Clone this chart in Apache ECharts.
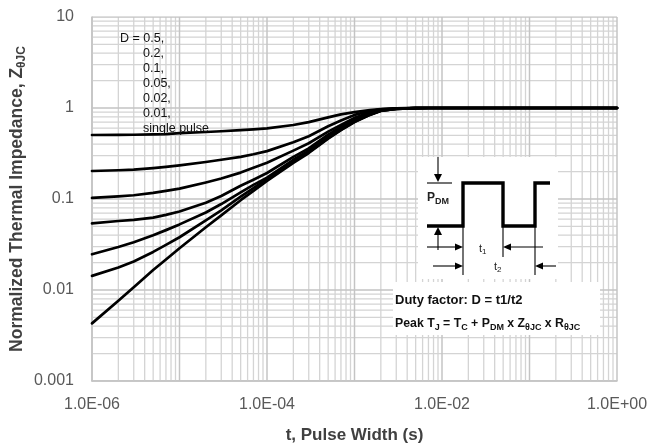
<!DOCTYPE html>
<html><head><meta charset="utf-8">
<script src="https://cdn.jsdelivr.net/npm/echarts@6/dist/echarts.min.js"></script>
<style>html,body{margin:0;padding:0;background:#fff}#c{width:648px;height:446px}</style>
</head><body><div id="c"></div>
<script>
// ---- data ----
const pulseWidths = [1e-6,2e-6,3e-6,5e-6,7e-6,1e-5,2e-5,3e-5,5e-5,7e-5,1e-4,2e-4,3e-4,5e-4,7e-4,1e-3,1.5e-3,2e-3,3e-3,5e-3,7e-3,1e-2,1e-1,1];
const zD050  = [0.505,0.506,0.508,0.512,0.517,0.53,0.545,0.555,0.57,0.582,0.597,0.65,0.70,0.79,0.85,0.90,0.95,0.975,0.99,1.0,1.0,1.0,1.0,1.0];
const zD020  = [0.203,0.207,0.21,0.218,0.225,0.234,0.255,0.27,0.29,0.31,0.336,0.42,0.49,0.63,0.73,0.84,0.925,0.965,0.99,1.0,1.0,1.0,1.0,1.0];
const zD010  = [0.103,0.107,0.11,0.117,0.123,0.13,0.152,0.168,0.195,0.22,0.25,0.34,0.41,0.55,0.65,0.78,0.89,0.955,0.988,0.998,1.0,1.0,1.0,1.0];
const zD005  = [0.054,0.0573,0.059,0.0625,0.067,0.073,0.091,0.108,0.14,0.163,0.193,0.29,0.36,0.51,0.62,0.75,0.87,0.945,0.985,0.997,1.0,1.0,1.0,1.0];
const zD002  = [0.0247,0.0297,0.0335,0.040,0.0455,0.0526,0.071,0.088,0.118,0.143,0.172,0.27,0.34,0.48,0.59,0.72,0.85,0.935,0.98,0.995,1.0,1.0,1.0,1.0];
const zD001  = [0.0143,0.0177,0.0206,0.0262,0.0313,0.038,0.0583,0.075,0.106,0.132,0.166,0.258,0.327,0.467,0.575,0.705,0.842,0.932,0.98,0.995,1.0,1.0,1.0,1.0];
const zSingle= [0.0043,0.0076,0.0107,0.0166,0.0216,0.0288,0.049,0.066,0.097,0.123,0.158,0.25,0.32,0.46,0.57,0.70,0.84,0.93,0.98,0.995,1.0,1.0,1.0,1.0];
const seriesNames = ['D = 0.5,','0.2,','0.1,','0.05,','0.02,','0.01,','single pulse'];
const seriesValues = [zD050,zD020,zD010,zD005,zD002,zD001,zSingle];
const xTickValues = [1e-6,1e-4,1e-2,1];
const xTickLabels = ['1.0E-06','1.0E-04','1.0E-02','1.0E+00'];
const yTickValues = [0.001,0.01,0.1,1,10];
const yTickLabels = ['0.001','0.01','0.1','1','10'];
const xDecades = [-6,-5,-4,-3,-2,-1,0];
const yDecades = [-3,-2,-1,0,1];
const minorMultipliers = [2,3,4,5,6,7,8,9];

const X_MIN = xTickValues[0], X_MAX = xTickValues[xTickValues.length-1];
const Y_MIN = yTickValues[0], Y_MAX = yTickValues[yTickValues.length-1];

function labelFor(v, vals, labs){
  const lv = Math.log10(v);
  for (let i=0;i<vals.length;i++){ if (Math.abs(lv-Math.log10(vals[i]))<1e-6) return labs[i]; }
  return '';
}

// grid lines as broken line series (drawn through the axes)
const majorGrid = [], minorGrid = [];
function vLine(arr, x){ arr.push([x,Y_MIN],[x,Y_MAX],[x,'-']); }
function hLine(arr, y){ arr.push([X_MIN,y],[X_MAX,y],['-',y]); }
xDecades.forEach(e=>{
  vLine(majorGrid, Math.pow(10,e));
  if (e<0) minorMultipliers.forEach(m=>vLine(minorGrid, m*Math.pow(10,e)));
});
yDecades.forEach(e=>{
  hLine(majorGrid, Math.pow(10,e));
  if (e<1) minorMultipliers.forEach(m=>hLine(minorGrid, m*Math.pow(10,e)));
});

const chart = echarts.init(document.getElementById('c'), null, {renderer:'canvas'});

const series = [
  {type:'line', data:minorGrid, symbol:'none', silent:true, z:1, connectNulls:false,
   lineStyle:{color:'#d4d4d4', width:1.3}, emphasis:{disabled:true}},
  {type:'line', data:majorGrid, symbol:'none', silent:true, z:1, connectNulls:false,
   lineStyle:{color:'#c4c4c4', width:1.5}, emphasis:{disabled:true}}
];
seriesValues.forEach((vals,i)=>{
  series.push({
    name: seriesNames[i], type:'line', z:3, symbol:'none', smooth:false,
    lineStyle:{color:'#000', width:2.7, join:'round', cap:'round'}, itemStyle:{color:'#000'},
    data: pulseWidths.map((t,j)=>[t, vals[j]])
  });
});

const FF = '"Liberation Sans", Arial, sans-serif';
const graphic = [];
// legend-like text
seriesNames.forEach((n,i)=>{
  graphic.push({type:'text', left: i===0?120:143, top: 32+i*15, z:10,
    style:{text:n, font:'12.5px '+FF, fill:'#111'}});
});
// inset white boxes
graphic.push({type:'rect', shape:{x:418,y:157,width:140,height:122}, style:{fill:'#fff'}, z:5});
graphic.push({type:'rect', shape:{x:393,y:282,width:207,height:53}, style:{fill:'#fff'}, z:5});
// waveform
graphic.push({type:'polyline', z:6, shape:{points:[[427,226],[463,226],[463,183],[503,183],[503,226],[535,226],[535,183],[550,183]]},
  style:{stroke:'#000', lineWidth:3.4, fill:null}});
const thin = {stroke:'#000', lineWidth:1.1};
[[427,183,452,183],[438,157,438,178],[438,250,438,231],[463,226,463,275],[503,226,503,257],[535,226,535,275],
 [427,247,458,247],[543,247,508,247],[433,266,458,266],[556,266,540,266]].forEach(l=>{
  graphic.push({type:'line', z:6, shape:{x1:l[0],y1:l[1],x2:l[2],y2:l[3]}, style:thin});
});
[[[434,174],[442,174],[438,182]], [[434,235],[442,235],[438,227]],
 [[455,243.5],[455,250.5],[463,247]], [[511,243.5],[511,250.5],[503,247]],
 [[455,262.5],[455,269.5],[463,266]], [[543,262.5],[543,269.5],[535,266]]].forEach(p=>{
  graphic.push({type:'polygon', z:6, shape:{points:p}, style:{fill:'#000'}});
});
const sub = {fontSize:9, fontWeight:'bold', padding:[8,0,0,0]};
graphic.push({type:'text', left:427, top:192, z:7, style:{text:'P{s|DM}', font:'bold 12px '+FF, fill:'#222', rich:{s:sub}}});
graphic.push({type:'text', left:479, top:243, z:7, style:{text:'t{s|1}', font:'11px '+FF, fill:'#222', rich:{s:{fontSize:8, padding:[6,0,0,0]}}}});
graphic.push({type:'text', left:494, top:261, z:7, style:{text:'t{s|2}', font:'11px '+FF, fill:'#222', rich:{s:{fontSize:8, padding:[6,0,0,0]}}}});
graphic.push({type:'text', left:395, top:294, z:7, style:{text:'Duty factor: D = t1/t2', font:'bold 13px '+FF, fill:'#111'}});
graphic.push({type:'text', left:395, top:318, z:7, style:{text:'Peak T{s|J} = T{s|C} + P{s|DM} x Z{s|θJC} x R{s|θJC}', font:'bold 12.3px '+FF, fill:'#111', rich:{s:sub}}});

chart.setOption({
  animation:false,
  backgroundColor:'#fff',
  grid:{left:92, right:31, top:17, bottom:65, containLabel:false, outerBoundsMode:'none'},
  xAxis:{type:'log', logBase:10, min:X_MIN, max:X_MAX,
    name:'t, Pulse Width (s)', nameLocation:'middle', nameGap:46, nameMoveOverlap:false,
    nameTextStyle:{fontSize:17, fontWeight:'bold', color:'#404040', fontFamily:FF},
    axisLine:{show:true, lineStyle:{color:'#bdbdbd', width:1.5}},
    axisTick:{show:false}, splitLine:{show:false},
    axisLabel:{margin:16, fontSize:16, color:'#595959', fontFamily:FF,
      showMinLabel:true, showMaxLabel:true, formatter:v=>labelFor(v,xTickValues,xTickLabels)}},
  yAxis:{type:'log', logBase:10, min:Y_MIN, max:Y_MAX,
    name:'Normalized Thermal Impedance, Z{s|θJC}', nameLocation:'middle', nameGap:64, nameMoveOverlap:false,
    nameTextStyle:{fontSize:17.5, fontWeight:'bold', color:'#404040', fontFamily:FF,
      rich:{s:{fontSize:12, fontWeight:'bold', color:'#404040', fontFamily:FF, padding:[9,0,0,0]}}},
    axisLine:{show:true, lineStyle:{color:'#bdbdbd', width:1.5}},
    axisTick:{show:false}, splitLine:{show:false},
    axisLabel:{margin:18, fontSize:16, color:'#595959', fontFamily:FF,
      showMinLabel:true, showMaxLabel:true, formatter:v=>labelFor(v,yTickValues,yTickLabels)}},
  series: series,
  graphic: graphic
});
</script></body></html>
